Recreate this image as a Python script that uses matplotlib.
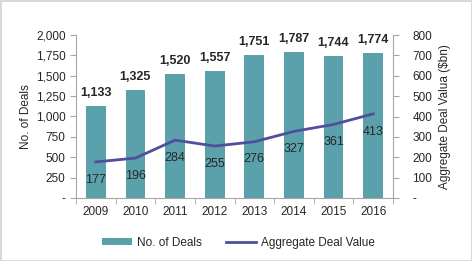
import matplotlib.pyplot as plt
import numpy as np
from matplotlib.ticker import FuncFormatter

years = ["2009", "2010", "2011", "2012", "2013", "2014", "2015", "2016"]
deals = [1133, 1325, 1520, 1557, 1751, 1787, 1744, 1774]
value = [177, 196, 284, 255, 276, 327, 361, 413]

BAR = "#5ba1ab"
LINE = "#4f4f9c"
GRID = "#a6a6a6"
TXT = "#262626"

plt.rcParams['font.family'] = ['Liberation Sans', 'DejaVu Sans']

fig = plt.figure(figsize=(4.72, 2.61), dpi=100)
fig.patch.set_edgecolor("#d9d9d9")
fig.patch.set_linewidth(2)
ax = fig.add_axes([76 / 472, 1 - 198 / 261, (393 - 76) / 472, (198 - 35) / 261])
x = np.arange(len(years))

ax.bar(x, deals, width=0.5, color=BAR, label="No. of Deals")
ax.set_xlim(-0.5, len(years) - 0.5)
ax.set_ylim(0, 2000)
ax.set_yticks(np.arange(0, 2001, 250))
ax.yaxis.set_major_formatter(FuncFormatter(lambda v, p: "-" if v == 0 else f"{int(v):,}"))
ax.set_xticks(x)
ax.set_xticklabels(years)
ax.set_xticks(np.arange(-0.5, len(years)), minor=True)
ax.tick_params(axis="x", which="major", length=0, labelsize=8.5, colors=TXT, pad=6)
ax.tick_params(axis="x", which="minor", length=4, color=GRID)
ax.tick_params(axis="y", length=4, color=GRID, labelsize=8.5, labelcolor=TXT)
ax.set_ylabel("No. of Deals", fontsize=8.5, color=TXT, labelpad=3)
for s in ["top", "right"]:
    ax.spines[s].set_visible(False)
for s in ["left", "bottom"]:
    ax.spines[s].set_color(GRID)

for xi, d in zip(x, deals):
    ax.text(xi, d + 160, f"{d:,}", ha="center", va="center", fontsize=9,
            fontweight="bold", color=TXT)

ax2 = ax.twinx()
ax2.plot(x, value, color=LINE, linewidth=2, label="Aggregate Deal Value")
ax2.set_ylim(0, 800)
ax2.set_yticks(np.arange(0, 801, 100))
ax2.yaxis.set_major_formatter(FuncFormatter(lambda v, p: "-" if v == 0 else f"{int(v)}"))
ax2.tick_params(axis="y", length=4, color=GRID, labelsize=8.5, labelcolor=TXT, pad=10)
ax2.set_ylabel("Aggregate Deal Valua ($bn)", fontsize=8.5, color=TXT, labelpad=5)
for s in ["top", "left", "bottom"]:
    ax2.spines[s].set_visible(False)
ax2.spines["right"].set_color(GRID)

for xi, v in zip(x, value):
    ax2.text(xi, v - 87, f"{v}", ha="center", va="center", fontsize=9, color=TXT)

h1, l1 = ax.get_legend_handles_labels()
h2, l2 = ax2.get_legend_handles_labels()
fig.legend(h1 + h2, l1 + l2, loc="center", bbox_to_anchor=(0.505, 1 - 243 / 261),
           ncol=2, frameon=False, fontsize=8.5, handlelength=2.6, handleheight=0.5,
           handletextpad=0.4, columnspacing=2.0, labelcolor=TXT)

fig.savefig("out.png", dpi=100)
